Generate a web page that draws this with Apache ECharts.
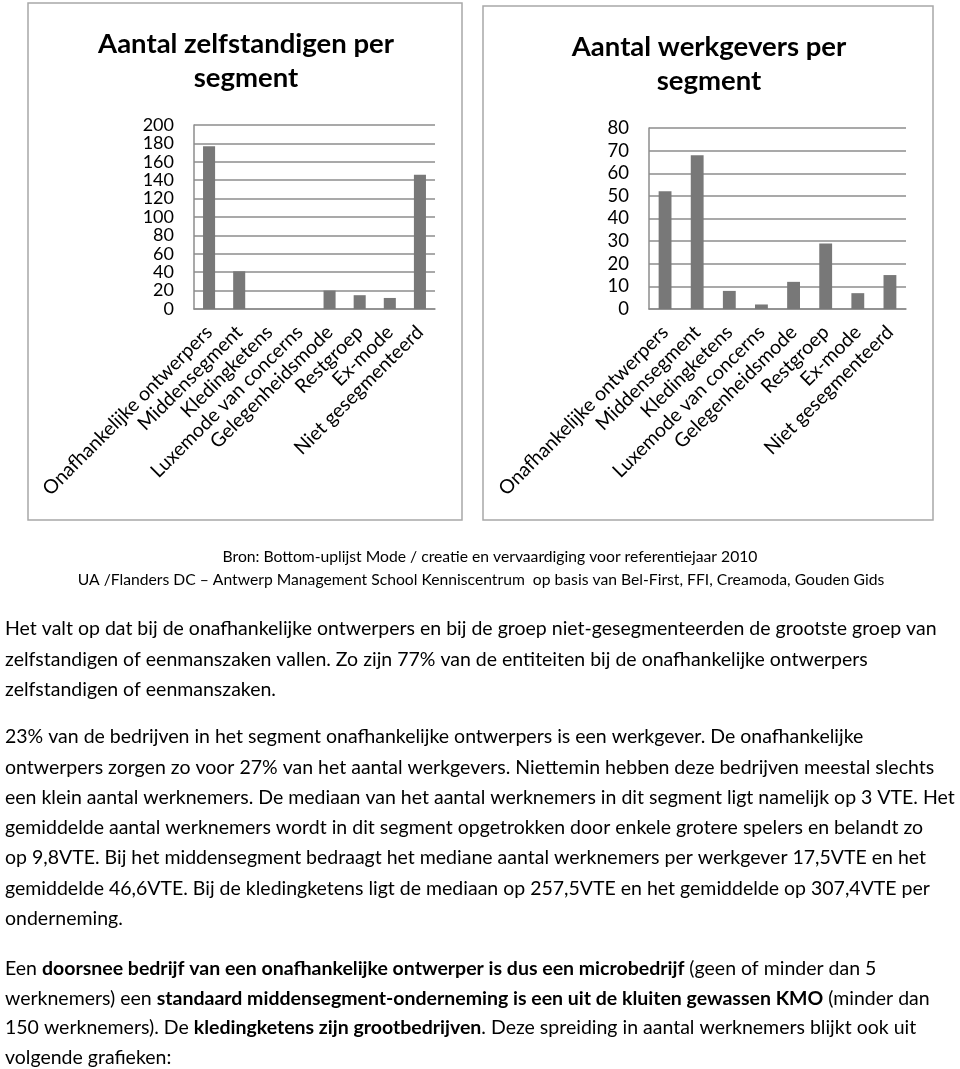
<!DOCTYPE html>
<html>
<head>
<meta charset="utf-8">
<script src="https://cdn.jsdelivr.net/npm/echarts@6/dist/echarts.min.js"></script>
<style>
  html, body { margin: 0; padding: 0; background: #fff; }
  #chart { width: 960px; height: 1069px; }
</style>
</head>
<body>
<div id="chart"></div>
<script>
// ---- data ----
const categories = ['Onafhankelijke ontwerpers', 'Middensegment', 'Kledingketens', 'Luxemode van concerns', 'Gelegenheidsmode', 'Restgroep', 'Ex-mode', 'Niet gesegmenteerd'];
const zelfstandigen = [177, 41, 0, 0, 20, 15, 12, 146];
const werkgevers = [52, 68, 8, 2, 12, 29, 7, 15];
const leftTicks = { min: 0, max: 200, interval: 20 };
const rightTicks = { min: 0, max: 80, interval: 10 };
const leftTitle = 'Aantal zelfstandigen per\nsegment';
const rightTitle = 'Aantal werkgevers per\nsegment';

const FONT = 'Lato, "Open Sans", sans-serif';
const BAR = '#787878';
const GRIDC = '#8c8c8c';

const chart = echarts.init(document.getElementById('chart'), null, { renderer: 'canvas' });

function xAxisCfg(idx) {
  return {
    type: 'category', gridIndex: idx, data: categories,
    axisLine: { lineStyle: { color: GRIDC, width: 1.5 } },
    axisTick: { show: false },
    axisLabel: { interval: 0, rotate: 45, fontSize: 19.5, color: '#000', fontFamily: FONT, margin: 20, hideOverlap: false }
  };
}
function yAxisCfg(idx, t, fs) {
  return {
    type: 'value', gridIndex: idx, min: t.min, max: t.max, interval: t.interval,
    axisLine: { show: true, lineStyle: { color: GRIDC, width: 1.5 } },
    axisTick: { show: false },
    splitLine: { lineStyle: { color: GRIDC, width: 1.5 } },
    axisLabel: { fontSize: fs, color: '#000', fontFamily: FONT, margin: 20, lineHeight: 16,
      showMinLabel: true, showMaxLabel: true, hideOverlap: false }
  };
}

const p1 = [
  'Het valt op dat bij de onafhankelijke ontwerpers en bij de groep niet-gesegmenteerden de grootste groep van',
  'zelfstandigen of eenmanszaken vallen. Zo zijn 77% van de entiteiten bij de onafhankelijke ontwerpers',
  'zelfstandigen of eenmanszaken.'
];
const p2 = [
  '23% van de bedrijven in het segment onafhankelijke ontwerpers is een werkgever. De onafhankelijke',
  'ontwerpers zorgen zo voor 27% van het aantal werkgevers. Niettemin hebben deze bedrijven meestal slechts',
  'een klein aantal werknemers. De mediaan van het aantal werknemers in dit segment ligt namelijk op 3 VTE. Het',
  'gemiddelde aantal werknemers wordt in dit segment opgetrokken door enkele grotere spelers en belandt zo',
  'op 9,8VTE. Bij het middensegment bedraagt het mediane aantal werknemers per werkgever 17,5VTE en het',
  'gemiddelde 46,6VTE. Bij de kledingketens ligt de mediaan op 257,5VTE en het gemiddelde op 307,4VTE per',
  'onderneming.'
];
const p3 = [
  'Een {b|doorsnee bedrijf van een onafhankelijke ontwerper is dus een microbedrijf} (geen of minder dan 5',
  'werknemers) een {b|standaard middensegment-onderneming is een uit de kluiten gewassen KMO} (minder dan',
  '150 werknemers). De {b|kledingketens zijn grootbedrijven}. Deze spreiding in aantal werknemers blijkt ook uit',
  'volgende grafieken:'
];

const graphics = [
  { type: 'rect', shape: { x: 28, y: 3, width: 434, height: 517 }, style: { fill: 'none', stroke: '#a8a8a8', lineWidth: 1.5 }, silent: true },
  { type: 'rect', shape: { x: 483, y: 6, width: 450, height: 514 }, style: { fill: 'none', stroke: '#a8a8a8', lineWidth: 1.5 }, silent: true },
  { type: 'text', x: 246, y: 27, style: { text: leftTitle, align: 'center', font: 'bold 27.5px ' + FONT, lineHeight: 34, fill: '#000' } },
  { type: 'text', x: 709, y: 30, style: { text: rightTitle, align: 'center', font: 'bold 27.5px ' + FONT, lineHeight: 34, fill: '#000' } },
  { type: 'text', x: 490, y: 557, style: { text: 'Bron: Bottom-uplijst Mode / creatie en vervaardiging voor referentiejaar 2010', align: 'center', verticalAlign: 'middle', font: '15.7px ' + FONT, fill: '#000' } },
  { type: 'text', x: 481, y: 580, style: { text: 'UA /Flanders DC \u2013 Antwerp Management School Kenniscentrum  op basis van Bel-First, FFI, Creamoda, Gouden Gids', align: 'center', verticalAlign: 'middle', font: '15.7px ' + FONT, fill: '#000' } }
];
function addPara(lines, y0, step) {
  lines.forEach((ln, i) => {
    graphics.push({
      type: 'text', x: 5, y: y0 + i * step,
      style: {
        text: ln, verticalAlign: 'middle', fontFamily: FONT, fontSize: 19.5, fill: '#000',
        rich: { b: { fontFamily: FONT, fontSize: 19.5, fontWeight: 'bold', fill: '#000' } }
      }
    });
  });
}
addPara(p1, 629, 30.5);
addPara(p2, 737, 30.3);
addPara(p3, 969, 29.5);

chart.setOption({
  animation: false,
  backgroundColor: '#fff',
  textStyle: { fontFamily: FONT },
  grid: [
    { left: 194, top: 125, width: 241, height: 184, containLabel: false },
    { left: 649, top: 128, width: 257, height: 181, containLabel: false }
  ],
  xAxis: [xAxisCfg(0), xAxisCfg(1)],
  yAxis: [yAxisCfg(0, leftTicks, 18), yAxisCfg(1, rightTicks, 18.5)],
  series: [
    { type: 'bar', xAxisIndex: 0, yAxisIndex: 0, data: zelfstandigen, barWidth: '40%', itemStyle: { color: BAR } },
    { type: 'bar', xAxisIndex: 1, yAxisIndex: 1, data: werkgevers, barWidth: '40%', itemStyle: { color: BAR } }
  ],
  graphic: graphics
});
</script>
</body>
</html>
